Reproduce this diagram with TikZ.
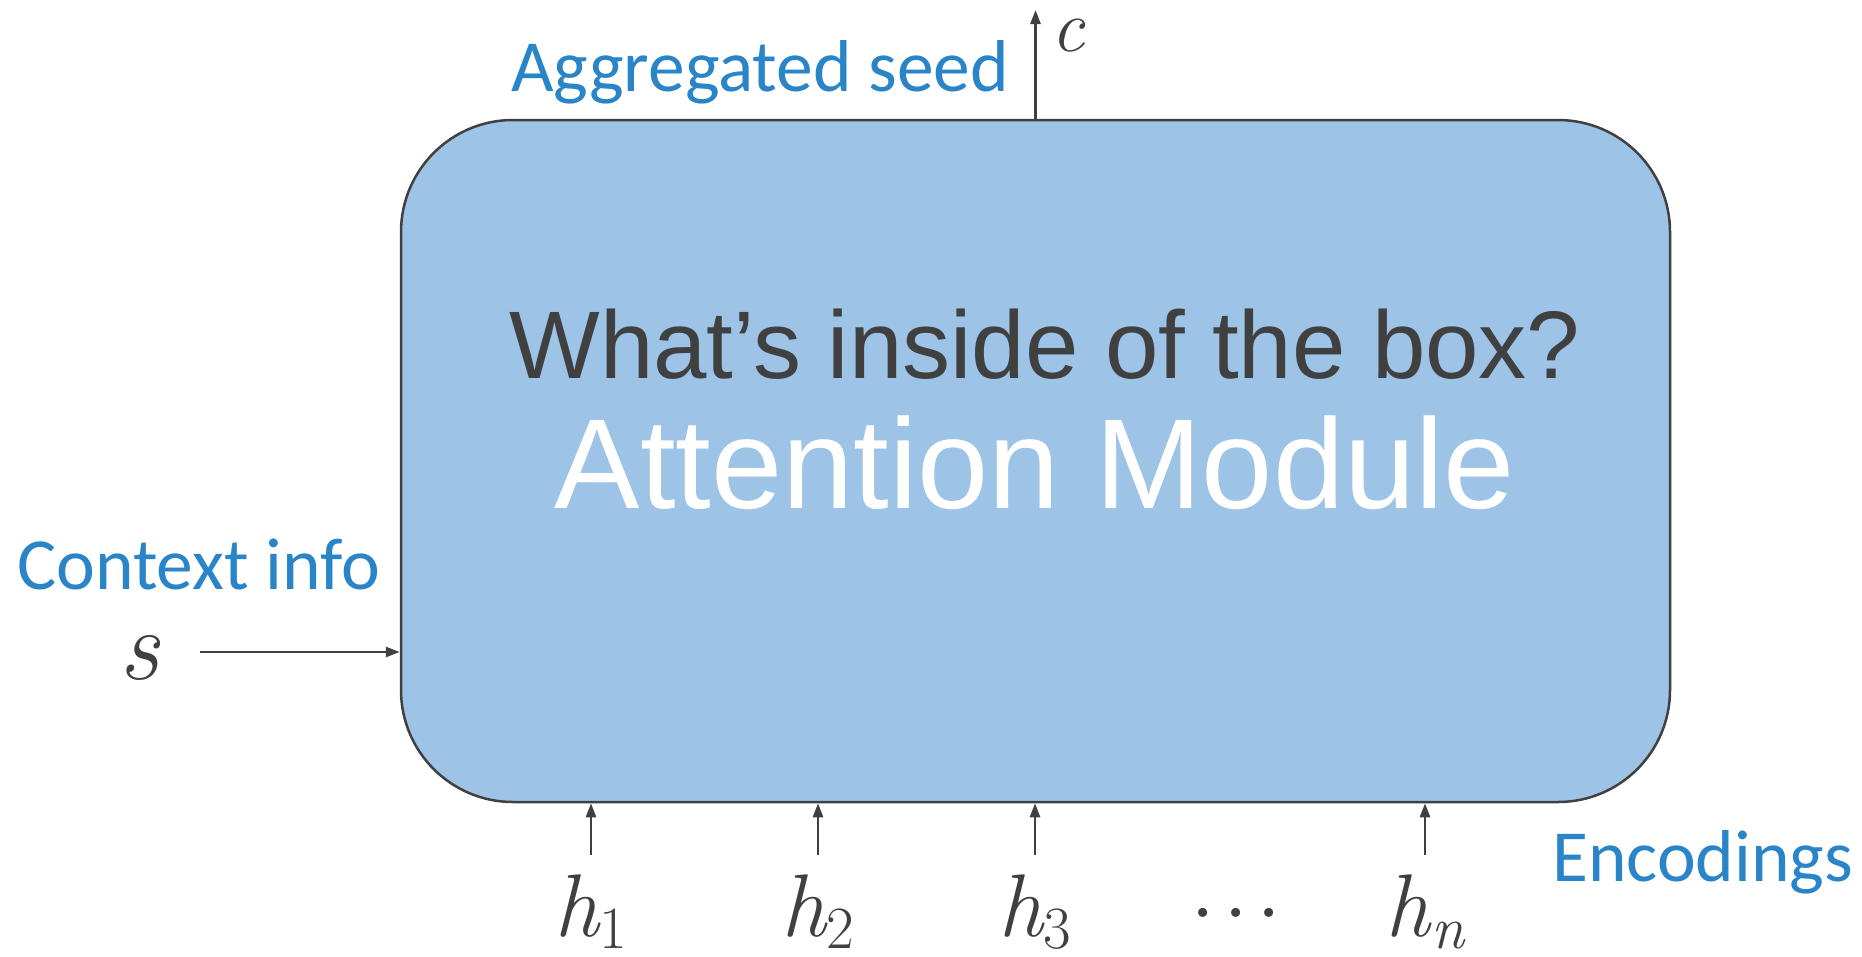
\documentclass[tikz,border=0pt]{standalone}
\usepackage{fontspec}
\setmainfont{Latin Modern Roman}
\newfontfamily\calibf{Carlito}
\newfontfamily\arialf{Liberation Sans}
\usetikzlibrary{arrows.meta}
\definecolor{boxblue}{HTML}{9DC3E6}
\definecolor{txtblue}{HTML}{2A84C8}
\definecolor{dk}{HTML}{404040}
\newcommand{\hsub}[1]{{\itshape h}\kern1pt\raisebox{-12pt}{\fontsize{60}{70}\selectfont #1}}
\newcommand{\onedot}{\makebox[33pt]{\textperiodcentered}}
\tikzset{
  arr/.style={draw=dk, line width=2.5pt, -{Triangle[length=14pt,width=10pt]}},
  bluelabel/.style={text=txtblue, inner sep=0pt, anchor=base west, font=\calibf\fontsize{73.5}{88}\selectfont},
  mathlabel/.style={text=dk, inner sep=0pt, anchor=base},
}
\begin{document}
\begin{tikzpicture}[x=1pt,y=-1pt]
\useasboundingbox (0,0) rectangle (1862,956);
\node[draw=dk, line width=2.5pt, fill=boxblue, rounded corners=112pt,
      minimum width=1269pt, minimum height=682pt, inner sep=0pt] (box) at (1035.5,461) {};
\node[anchor=base, inner sep=0pt, text=dk, font=\arialf\fontsize{96}{110}\selectfont] (q) at (1045,378) {What’s inside of the box?};
\node[anchor=base, inner sep=0pt, text=white, font=\arialf\fontsize{128}{150}\selectfont] (am) at (1035,508) {Attention Module};
\node[bluelabel] (agg) at (511,91) {Aggregated seed};
\node[bluelabel] (ctx) at (17,589) {Context info};
\node[bluelabel] (enc) at (1552,881) {Encodings};
% output c
\coordinate (ctip) at (1035.5,10);
\draw[arr] (box.north) -- (ctip);
\node[mathlabel, font=\itshape\fontsize{74}{86}\selectfont] (c) at (1068,51) {c};
% input s
\node[mathlabel, font=\itshape\fontsize{100}{120}\selectfont] (s) at (139,679) {s};
\coordinate (s0) at (200,652);
\draw[arr] (s0) -- (s0 -| box.west);
% encodings
\foreach \n/\x/\lab in {h1/591/1, h2/818/2, h3/1035/3, hn/1425/{\itshape n}}{
  \coordinate (\n b) at (\x,855);
  \draw[arr] (\n b) -- (\n b |- box.south);
  \node[mathlabel, font=\fontsize{89}{100}\selectfont] (\n) at (\x,936) {\hsub{\lab}};
}
\node[text=dk, inner sep=0pt, anchor=base, font=\fontsize{110}{120}\selectfont] (dots) at (1236,950) {\onedot\onedot\onedot};
\end{tikzpicture}
\end{document}
